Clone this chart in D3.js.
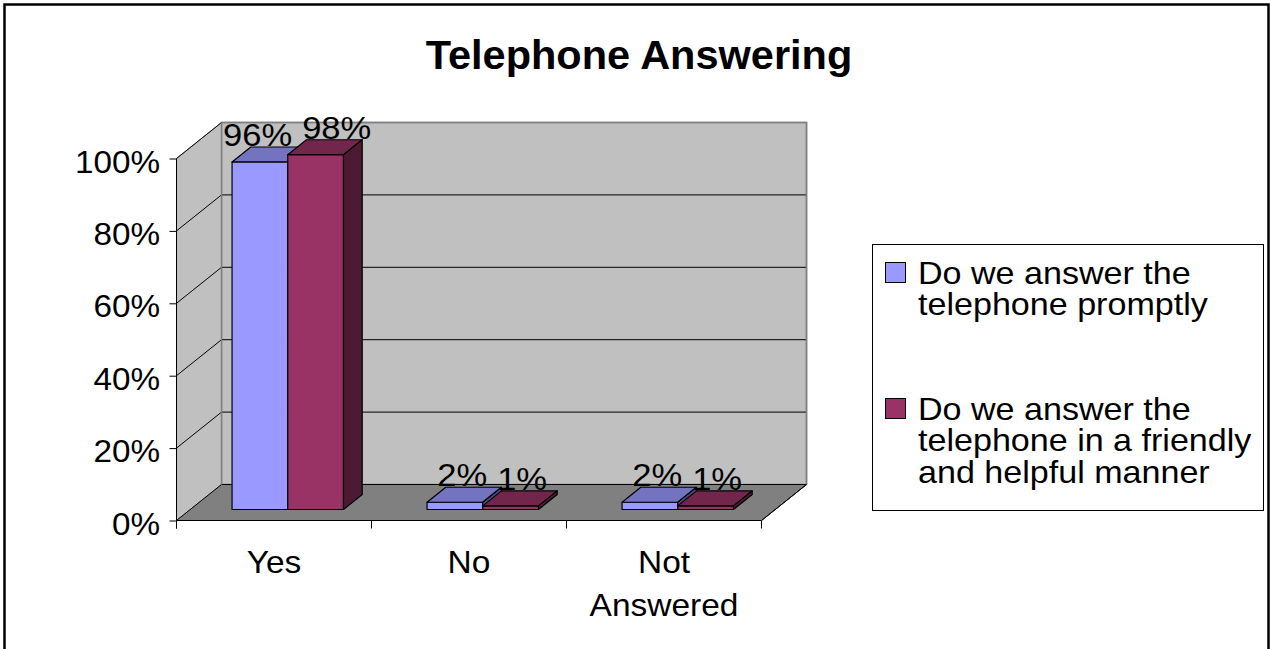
<!DOCTYPE html>
<html>
<head>
<meta charset="utf-8">
<script src="https://cdn.jsdelivr.net/npm/d3@7"></script>
<style>
  html, body { margin: 0; padding: 0; background: #fff; }
  svg { display: block; font-family: Arial, "Liberation Sans", sans-serif; }
</style>
</head>
<body>
<svg id="chart" width="1270" height="649"></svg>
<script>
// ---- data ----
const categories = ["Yes", "No", "Not Answered"];
const seriesNames = [
  "Do we answer the telephone promptly",
  "Do we answer the telephone in a friendly and helpful manner"
];
const promptlyValues = [0.96, 0.02, 0.02];
const friendlyValues = [0.98, 0.01, 0.01];
const yTickValues = [0, 0.2, 0.4, 0.6, 0.8, 1.0];
const titleText = "Telephone Answering";

// ---- layout ----
const plot = { left: 176.5, right: 761.5, top: 158.5, base: 520.5 };
const DEPTH = { dx: 45, dy: 36 };          // floor / wall depth offset
const barFront = 0.306, barBack = 0.722;     // bar depth as fraction of the floor depth
const textStretch = 1.08;
const axisStretch = 1.04;
const legendStretch = 1.065;

const palette = {
  fill: ["#9999FF", "#993366"],
  top: ["#7373BF", "#73264C"],
  side: ["#4D4D80", "#4D1A33"],
  wall: "#C0C0C0",
  floor: "#808080",
  wallEdge: "#808080"
};

const svg = d3.select("#chart");
const series = [promptlyValues, friendlyValues];

const x = d3.scaleBand().domain(categories).range([plot.left, plot.right]).paddingInner(0).paddingOuter(0);
const xInner = d3.scaleBand().domain(d3.range(series.length)).range([0, x.bandwidth()])
  .paddingInner(0).paddingOuter(0.75);
const y = d3.scaleLinear().domain([0, 1]).range([plot.base, plot.top]);

// project a front-plane point back by depth fraction f
const proj = (px, py, f) => [px + f * DEPTH.dx, py - f * DEPTH.dy];
const poly = pts => pts.map(p => p.join(",")).join(" ");

// word-wrap a label into tspans no wider than maxW (after horizontal stretch)
function wrapInto(textSel, str, maxW, stretch, lineH) {
  let line = [], lineNo = 0;
  let ts = textSel.append("tspan").attr("x", 0).attr("y", 0);
  str.split(" ").forEach(w => {
    line.push(w);
    ts.text(line.join(" "));
    if (ts.node().getComputedTextLength() * stretch > maxW && line.length > 1) {
      line.pop();
      ts.text(line.join(" "));
      line = [w];
      lineNo++;
      ts = textSel.append("tspan").attr("x", 0).attr("y", lineNo * lineH).text(w);
    }
  });
  return lineNo + 1;
}

// outer frame
svg.append("rect").attr("x", 4.5).attr("y", 4.5).attr("width", 1264).attr("height", 700)
  .attr("fill", "#fff").attr("stroke", "#000").attr("stroke-width", 2.5);

// title
svg.append("text").attr("x", 639).attr("y", 69).attr("text-anchor", "middle")
  .attr("font-size", 41.5).attr("font-weight", "bold").text(titleText);

// ---- walls and floor ----
const g = svg.append("g");
const y0 = y(0), y1 = y(1);
g.append("polygon") // back wall
  .attr("points", poly([proj(plot.left, y1, 1), proj(plot.right, y1, 1), proj(plot.right, y0, 1), proj(plot.left, y0, 1)]))
  .attr("fill", palette.wall).attr("stroke", palette.wallEdge).attr("stroke-width", 1.5);
g.append("polygon") // side wall
  .attr("points", poly([[plot.left, y1], proj(plot.left, y1, 1), proj(plot.left, y0, 1), [plot.left, y0]]))
  .attr("fill", palette.wall).attr("stroke", palette.wallEdge).attr("stroke-width", 1);
g.append("polygon") // floor
  .attr("points", poly([[plot.left, y0], [plot.right, y0], proj(plot.right, y0, 1), proj(plot.left, y0, 1)]))
  .attr("fill", palette.floor).attr("stroke", "#000").attr("stroke-width", 1);

// gridlines: side wall diagonals running into back wall horizontals
yTickValues.filter(v => v > 0).forEach(v => {
  const yy = y(v);
  g.append("polyline")
    .attr("points", poly([[plot.left, yy], proj(plot.left, yy, 1), proj(plot.right, yy, 1)]))
    .attr("fill", "none").attr("stroke", "#000").attr("stroke-width", 1);
});
// back wall edges
g.append("polyline")
  .attr("points", poly([proj(plot.left, y1, 1), proj(plot.right, y1, 1), proj(plot.right, y0, 1)]))
  .attr("fill", "none").attr("stroke", palette.wallEdge).attr("stroke-width", 1.5);
g.append("line")
  .attr("x1", proj(plot.left, y1, 1)[0]).attr("y1", proj(plot.left, y1, 1)[1])
  .attr("x2", proj(plot.left, y0, 1)[0]).attr("y2", proj(plot.left, y0, 1)[1])
  .attr("stroke", palette.wallEdge).attr("stroke-width", 1.5);

// ---- axes ----
const axisG = svg.append("g");
axisG.append("line").attr("x1", plot.left).attr("x2", plot.left).attr("y1", y1).attr("y2", y0 + 8)
  .attr("stroke", "#000");
axisG.append("line").attr("x1", plot.left).attr("x2", plot.right).attr("y1", y0).attr("y2", y0)
  .attr("stroke", "#000");
axisG.append("line").attr("x1", plot.right).attr("x2", proj(plot.right, y0, 1)[0])
  .attr("y1", y0).attr("y2", proj(plot.right, y0, 1)[1]).attr("stroke", "#000");

const pct = d3.format(".0%");
const yAxis = d3.axisLeft(y).tickValues(yTickValues).tickFormat(pct).tickSize(7).tickPadding(0);
const yAxisG = axisG.append("g").attr("transform", `translate(${plot.left},0)`).call(yAxis);
yAxisG.select(".domain").remove();
yAxisG.selectAll(".tick line").attr("stroke", "#000");
yAxisG.selectAll(".tick text").remove();
yAxisG.selectAll(".tick").append("text")
  .attr("text-anchor", "end").attr("fill", "#000").attr("font-size", 32)
  .attr("font-family", "Arial, 'Liberation Sans', sans-serif")
  .attr("transform", `translate(-16.5,13.5) scale(${axisStretch},1)`)
  .text(d => pct(d));

// category ticks at band boundaries
const boundaries = categories.map(c => x(c)).concat([plot.right]);
axisG.selectAll("line.cat-tick").data(boundaries).join("line").attr("class", "cat-tick")
  .attr("x1", d => d).attr("x2", d => d).attr("y1", y0).attr("y2", y0 + 8).attr("stroke", "#000");

// category labels (word-wrapped to the band width)
const catG = svg.append("g");
categories.forEach(c => {
  const t = catG.append("text").attr("text-anchor", "middle").attr("font-size", 31)
    .attr("transform", `translate(${x(c) + x.bandwidth() / 2},573) scale(${textStretch},1)`);
  wrapInto(t, c, x.bandwidth() - 10, textStretch, 43.5);
});

// ---- bars ----
const barsG = svg.append("g");
const labelsData = [];
categories.forEach((c, ci) => {
  series.forEach((vals, si) => {
    const v = vals[ci];
    const xl = x(c) + xInner(si), xr = xl + xInner.bandwidth();
    const yt = y(v), yb = y(0);
    const fl = proj(xl, yt, barFront), fr = proj(xr, yt, barFront);
    const flb = proj(xl, yb, barFront), frb = proj(xr, yb, barFront);
    const bl = proj(xl, yt, barBack), br = proj(xr, yt, barBack), brb = proj(xr, yb, barBack);
    const face = (pts, fill) => barsG.append("polygon").attr("points", poly(pts))
      .attr("fill", fill).attr("stroke", "#000").attr("stroke-width", 1.2).attr("stroke-linejoin", "round");
    face([fl, fr, frb, flb], palette.fill[si]);   // front
    face([fl, fr, br, bl], palette.top[si]);      // top
    face([fr, br, brb, frb], palette.side[si]);   // right side
    labelsData.push({ ci, si, v, cx: (fl[0] + br[0]) / 2, ty: bl[1] });
  });
});

// ---- value labels (spread apart within a category when they collide) ----
const labG = svg.append("g");
const labelNodes = labelsData.map(d => {
  const t = labG.append("text").attr("text-anchor", "middle").attr("font-size", 32).text(pct(d.v));
  d.w = t.node().getComputedTextLength() * textStretch;
  d.node = t;
  return d;
});
d3.groups(labelNodes, d => d.ci).forEach(([, arr]) => {
  for (let i = 1; i < arr.length; i++) {
    const a = arr[i - 1], b = arr[i];
    const need = (a.w + b.w) / 2 + 10;
    const gap = b.cx - a.cx;
    if (gap < need) { const push = (need - gap) / 2; a.cx -= push; b.cx += push; }
  }
});
labelNodes.forEach(d => d.node.attr("transform", `translate(${d.cx},${d.ty - 1}) scale(${textStretch},1)`));

// ---- legend ----
const leg = { x: 872.5, y: 244.5, w: 391, h: 266, textX: 918, firstBase: 284, lineH: 31.5, entryGap: 73, maxW: 345 };
svg.append("rect").attr("x", leg.x).attr("y", leg.y).attr("width", leg.w).attr("height", leg.h)
  .attr("fill", "#fff").attr("stroke", "#000").attr("stroke-width", 1);
let base = leg.firstBase;
seriesNames.forEach((name, si) => {
  svg.append("rect").attr("x", 885.5).attr("y", base - 21.5).attr("width", 20).attr("height", 20)
    .attr("fill", palette.fill[si]).attr("stroke", "#000").attr("stroke-width", 1);
  const t = svg.append("text").attr("font-size", 32)
    .attr("transform", `translate(${leg.textX},${base}) scale(${legendStretch},1)`);
  const lines = wrapInto(t, name, leg.maxW, legendStretch, leg.lineH);
  base += lines * leg.lineH + leg.entryGap;
});
</script>
</body>
</html>
